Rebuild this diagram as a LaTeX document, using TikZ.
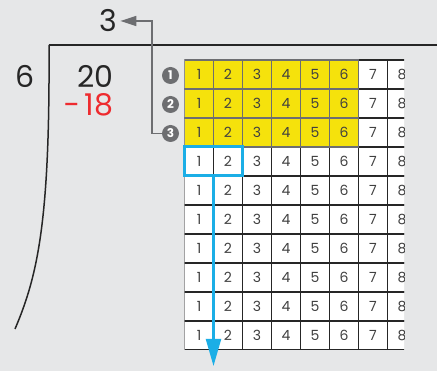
\documentclass[tikz,border=0pt]{standalone}
\usepackage{fontspec}
\setmainfont{Poppins}
\usetikzlibrary{arrows.meta}
\definecolor{bggrey}{HTML}{E6E7E8}
\definecolor{cellyellow}{HTML}{F5E20C}
\definecolor{markblue}{HTML}{1BAEE6}
\definecolor{minusred}{HTML}{EE2B2F}
\definecolor{stepgrey}{HTML}{6D6E71}
\tikzset{
  bignum/.style={font=\fontsize{30}{30}\selectfont, text=black!85},
  cellnum/.style={font=\fontsize{14}{14}\selectfont, text=black!75},
  stepdot/.style={circle, fill=stepgrey, text=white, inner sep=0pt, minimum size=17pt, font=\fontsize{12}{12}\selectfont\bfseries},
}
\begin{document}
\begin{tikzpicture}[x=1pt, y=-1pt]
  \fill[bggrey] (0,0) rectangle (437,371);
  \useasboundingbox (0,0) rectangle (437,371);
  % division bracket
  \draw[line width=2pt, black!85] (49,45) -- (437,45);
  \draw[line width=1.5pt, black!85] (49,45) .. controls (50,220) and (38,275) .. (15,329);
  \node[bignum] (divisor) at (25,76) {6};
  \node[bignum, anchor=east] (dividend) at (117,76) {20};
  \node[bignum, anchor=east, text=minusred] (product) at (117,105) {−\,18};
  \node[bignum] (quotient) at (108,21) {3};
  % number grid
  \begin{scope}
    \clip (184.5,60) rectangle (404,350);
    \foreach \r in {1,...,10}
      \foreach \c in {1,...,8}
        \draw[draw=black!85, fill=white, line width=1.2pt] ({184.5+29*(\c-1)},{60+29*(\r-1)}) rectangle +(29,29);
    \foreach \r in {1,2,3}
      \foreach \c in {1,...,6}
        \draw[draw=stepgrey, fill=cellyellow, line width=1.2pt] ({184.5+29*(\c-1)},{60+29*(\r-1)}) rectangle +(29,29);
    \foreach \r in {1,...,10}
      \foreach \c in {1,...,8}
        \node[cellnum] (n-\r-\c) at ({170+29*\c},{45.5+29*\r}) {\c};
  \end{scope}
  \node[stepdot] (s1) at (170.5,75.5) {1};
  \node[stepdot] (s2) at (170.5,104.5) {2};
  \node[stepdot] (s3) at (170.5,133.5) {3};
  \coordinate (bend) at (152,21);
  \draw[stepgrey, line width=1.5pt, -{Triangle[length=16pt,width=10pt]}] (s3.west) -| (bend) -- (quotient.east);
  % first two columns of the next row
  \node[draw=markblue, line width=3pt, minimum width=58pt, minimum height=29pt, inner sep=0pt] (pick) at (213.5,161.5) {};
  \coordinate (arrowend) at (213.5,366);
  \draw[markblue, line width=2.2pt, -{Triangle[length=27pt,width=15pt]}] (pick.south) -- (arrowend);
\end{tikzpicture}
\end{document}
